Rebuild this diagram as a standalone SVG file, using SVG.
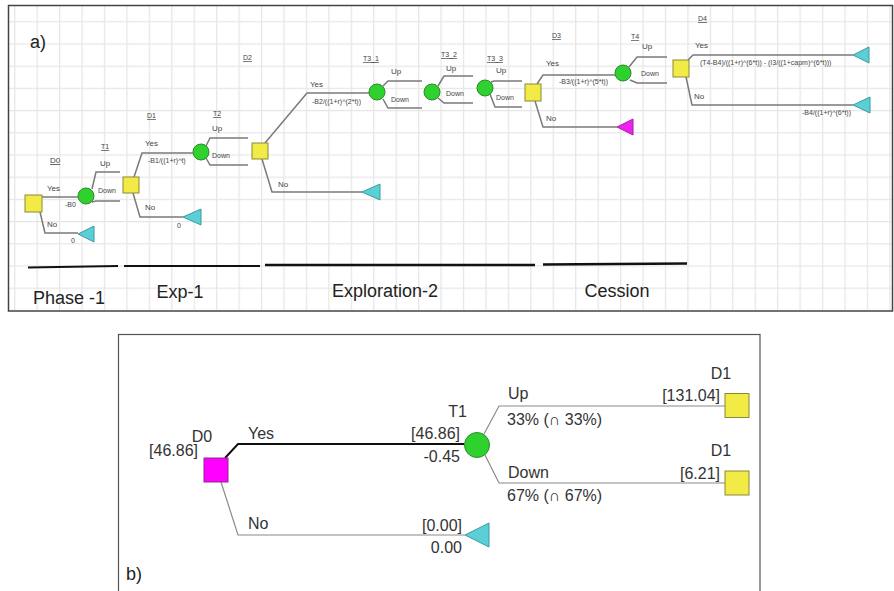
<svg xmlns="http://www.w3.org/2000/svg" width="894" height="591" viewBox="0 0 894 591">
<style>
.br{fill:none;stroke:#7a7a7a;stroke-width:1.5}
.bb{fill:none;stroke:#8a8a8a;stroke-width:1.2}
.dec{fill:#f2ea45;stroke:#8a8a3a;stroke-width:1}
.ch{fill:#2ed12e;stroke:#2a8a2a;stroke-width:1}
.tm{fill:#5ccfd6;stroke:#3a9aa0;stroke-width:1}
.tmm{fill:#f020f0;stroke:#a020a0;stroke-width:1}
.s{font-family:"Liberation Sans",Arial,sans-serif;font-size:8px;fill:#444}
.f{font-family:"Liberation Sans",Arial,sans-serif;font-size:7px;fill:#444}
.u{text-decoration:underline}
.ph{font-family:"Liberation Sans",Arial,sans-serif;font-size:18px;fill:#222}
.t{font-family:"Liberation Sans",Arial,sans-serif;font-size:16px;fill:#333}
.e{text-anchor:end}
.m{text-anchor:middle}
</style>
<defs>
<pattern id="grid" x="14.1" y="-1" width="22.44" height="22.2" patternUnits="userSpaceOnUse">
<path d="M0.5,0 V22.2 M0,0.5 H22.44" stroke="#e6e6e6" stroke-width="1.5" fill="none"/>
</pattern>
<clipPath id="pa"><rect x="9" y="6" width="883" height="304"/></clipPath>
</defs>
<rect width="894" height="591" fill="#fff"/>
<!-- Panel a -->
<g id="panel-a-bg">
<rect x="9" y="6" width="883" height="304" fill="url(#grid)" clip-path="url(#pa)"/>
<rect x="8.5" y="5.5" width="884" height="305.5" fill="none" stroke="#444" stroke-width="1.5"/>
<text x="30" y="48" class="ph">a)</text>
</g>
<g id="connectors-a">
<path class="br" d="M42,197 H78"/>
<path class="br" d="M40,212 L45,233 H78"/>
<path class="br" d="M92,189 L96,172 H120"/>
<path class="br" d="M92,202 L96,201 H120"/>
<path class="br" d="M134,177 L142,153 H193"/>
<path class="br" d="M133,193 L140,217 H183"/>
<path class="br" d="M206,146 L210,138 H248"/>
<path class="br" d="M206,158 L210,165 H248"/>
<path class="br" d="M265,143 L307,93 H369"/>
<path class="br" d="M262,159 L272,192 H362"/>
<path class="br" d="M383,86 L388,81 H422"/>
<path class="br" d="M383,99 L388,108 H422"/>
<path class="br" d="M438,86 L444,76 H473"/>
<path class="br" d="M438,98 L444,103 H473"/>
<path class="br" d="M491,82 L494,81 H522"/>
<path class="br" d="M490,94 L495,107 H522"/>
<path class="br" d="M537,84 L543,75 H615"/>
<path class="br" d="M535,101 L543,127 H617"/>
<path class="br" d="M629,67 L637,57 H667"/>
<path class="br" d="M630,80 L637,83 H667"/>
<path class="br" d="M688,60 L693,55 H853"/>
<path class="br" d="M686,77 L692,105 H853"/>
</g>
<g id="a-D0">
<rect class="dec" x="25" y="195" width="17" height="17"/>
<text class="s u" x="50" y="163">D0</text>
<text class="s" x="47" y="191">Yes</text>
<text class="f" x="65" y="207">-B0</text>
<text class="s" x="47" y="227">No</text>
</g>
<g id="a-D0-no-end">
<polygon class="tm" points="78,234 94,226 94,242"/>
<text class="f" x="71" y="243">0</text>
</g>
<g id="a-T1">
<circle class="ch" cx="86" cy="196" r="8"/>
<text class="f u" x="101" y="149">T1</text>
<text class="s" x="100" y="166">Up</text>
<text class="f" x="98" y="193">Down</text>
</g>
<g id="a-D1">
<rect class="dec" x="123" y="177" width="16" height="16"/>
<text class="f u" x="147" y="118">D1</text>
<text class="s" x="145" y="146">Yes</text>
<text class="f" x="148" y="163">-B1/((1+r)^t)</text>
<text class="s" x="145" y="210">No</text>
</g>
<g id="a-D1-no-end">
<polygon class="tm" points="183,217 201,209 201,225"/>
<text class="f" x="177" y="228">0</text>
</g>
<g id="a-T2">
<circle class="ch" cx="201" cy="152" r="8"/>
<text class="f u" x="213" y="116">T2</text>
<text class="s" x="212" y="131">Up</text>
<text class="f" x="212" y="158">Down</text>
</g>
<g id="a-D2">
<rect class="dec" x="252" y="143" width="16" height="16"/>
<text class="f u" x="243" y="60">D2</text>
<text class="s" x="310" y="87">Yes</text>
<text class="f" x="312" y="104">-B2/((1+r)^(2*t))</text>
<text class="s" x="278" y="187">No</text>
</g>
<g id="a-D2-no-end">
<polygon class="tm" points="362,192 380,184 380,200"/>
</g>
<g id="a-T3_1">
<circle class="ch" cx="377" cy="92" r="8"/>
<text class="f u" x="363" y="61">T3_1</text>
<text class="s" x="391" y="74">Up</text>
<text class="f" x="391" y="102">Down</text>
</g>
<g id="a-T3_2">
<circle class="ch" cx="432" cy="92" r="8"/>
<text class="f u" x="441" y="57">T3_2</text>
<text class="s" x="446" y="71">Up</text>
<text class="f" x="446" y="96">Down</text>
</g>
<g id="a-T3_3">
<circle class="ch" cx="485" cy="88" r="8"/>
<text class="f u" x="487" y="61">T3_3</text>
<text class="s" x="496" y="73">Up</text>
<text class="f" x="496" y="100">Down</text>
</g>
<g id="a-D3">
<rect class="dec" x="525" y="84" width="16" height="17"/>
<text class="f u" x="552" y="38">D3</text>
<text class="s" x="546" y="66">Yes</text>
<text class="f" x="559" y="84">-B3/((1+r)^(5*t))</text>
<text class="s" x="546" y="121">No</text>
</g>
<g id="a-D3-no-end">
<polygon class="tmm" points="617,127 633,119 633,135"/>
</g>
<g id="a-T4">
<circle class="ch" cx="623" cy="73" r="8"/>
<text class="f u" x="631" y="39">T4</text>
<text class="s" x="642" y="49">Up</text>
<text class="f" x="641" y="76">Down</text>
</g>
<g id="a-D4">
<rect class="dec" x="673" y="60" width="16" height="17"/>
<text class="f u" x="698" y="21">D4</text>
<text class="s" x="695" y="48">Yes</text>
<text class="f" x="700" y="65">(T4-B4)/((1+r)^(6*t)) - (I3/((1+capm)^(6*t)))</text>
<text class="s" x="694" y="99">No</text>
</g>
<g id="a-D4-yes-end">
<polygon class="tm" points="853,55 869,47 869,63"/>
</g>
<g id="a-D4-no-end">
<polygon class="tm" points="853,105 870,97 870,113"/>
<text class="f e" x="851" y="115">-B4/((1+r)^(6*t))</text>
</g>
<g id="phases">
<path d="M28,267.5 L118,266" stroke="#111" stroke-width="2"/>
<path d="M124,266 H260" stroke="#111" stroke-width="2"/>
<path d="M265,265 H535" stroke="#111" stroke-width="2.5"/>
<path d="M543,264.5 L687,263.5" stroke="#111" stroke-width="2.5"/>
<text class="ph m" x="69" y="304">Phase -1</text>
<text class="ph m" x="180" y="298">Exp-1</text>
<text class="ph m" x="385" y="297">Exploration-2</text>
<text class="ph m" x="617" y="297">Cession</text>
</g>
<!-- Panel b -->
<g id="panel-b-bg">
<rect x="118.5" y="334.5" width="641.5" height="262" fill="#fff" stroke="#555" stroke-width="1.2"/>
<text class="ph" x="126" y="580">b)</text>
</g>
<g id="connectors-b">
<path d="M225,458 L238,444 H464" fill="none" stroke="#111" stroke-width="2"/>
<path class="bb" d="M221,482 L238,535 H465"/>
<path class="bb" d="M484,434 L499,406 H725"/>
<path class="bb" d="M485,455 L499,483 H725"/>
</g>
<g id="b-D0">
<rect x="204" y="458" width="24" height="24" fill="#ff00ff" stroke="#8a2a8a" stroke-width="1"/>
<text class="t m" x="202" y="442">D0</text>
<text class="t e" x="198" y="456">[46.86]</text>
<text class="t" x="248" y="439">Yes</text>
<text class="t" x="248" y="529">No</text>
</g>
<g id="b-T1">
<circle class="ch" cx="477" cy="445" r="12.5"/>
<text class="t e" x="467" y="417">T1</text>
<text class="t e" x="460" y="439">[46.86]</text>
<text class="t e" x="460" y="462">-0.45</text>
<text class="t" x="508" y="399">Up</text>
<text class="t" x="507" y="425">33% (∩ 33%)</text>
<text class="t" x="508" y="478">Down</text>
<text class="t" x="507" y="501">67% (∩ 67%)</text>
</g>
<g id="b-No-end">
<polygon class="tm" points="465,535 489,523 489,547"/>
<text class="t e" x="462" y="531">[0.00]</text>
<text class="t e" x="462" y="553">0.00</text>
</g>
<g id="b-D1-up">
<rect class="dec" x="725" y="393.5" width="24" height="24"/>
<text class="t m" x="721" y="379">D1</text>
<text class="t e" x="720" y="401">[131.04]</text>
</g>
<g id="b-D1-down">
<rect class="dec" x="725" y="471" width="24" height="24"/>
<text class="t m" x="721" y="456">D1</text>
<text class="t e" x="720" y="479">[6.21]</text>
</g>
</svg>
